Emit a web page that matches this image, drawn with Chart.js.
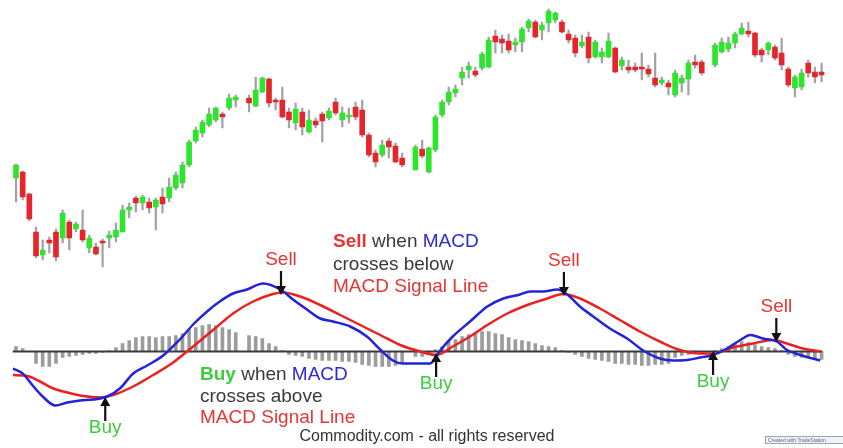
<!DOCTYPE html>
<html>
<head>
<meta charset="utf-8">
<title>MACD crossover</title>
<script src="https://cdn.jsdelivr.net/npm/chart.js@4.4.1/dist/chart.umd.min.js"></script>
<style>
  html, body { margin: 0; padding: 0; background: #fff; }
  #wrap { position: relative; width: 843px; height: 448px; }
</style>
</head>
<body>
<div id="wrap"><canvas id="macdChart"></canvas></div>
<script>
// candles (null = no trading that day)
const openPrices = [122, 128, 106, 68, 45, 60, 68, 62, 78, 71,
  70, 52, 53, 59, 62, 63, 68, 90, 102, 97,
  98, 93, 103, 102, 112, 117, 135, 159, 167, 175,
  180, 186, 192, 200, null, 202, 194, 208, 221, 200,
  200, 188, 177, 188, 168, 179, 186, 182, 198, 180,
  183, 193, 190, 165, 147, 145, 159, 154, 142, null,
  130, 151, 128, 150, 185, 198, 207, 222, 230, 229,
  232, 233, 264, 261, 259, 255, 258, 272, 278, 270,
  277, 280, 278, 266, 262, 254, 263, 243, 243, 243,
  252, 234, 233, 233, 233, 231, 222, 217, 217, 205,
  217, 221, 238, 238, null, 235, 248, 251, 257, 266,
  269, 267, 250, 250, 253, 247, 231, 212, 213, 237,
  228, 228];
const closePrices = [135, 103, 81, 44, 50, 57, 43, 87, 62, 76,
  60, 62, 46, 57, 65, 70, 90, 93, 97, 103,
  92, 100, 96, 113, 125, 135, 158, 170, 178, 186,
  192, 183, 202, 203, null, 197, 210, 222, 197, 198,
  183, 180, 191, 173, 180, 175, 179, 189, 187, 187,
  184, 183, 165, 145, 138, 155, 153, 138, 135, null,
  153, 144, 152, 183, 198, 208, 211, 228, 234, 225,
  246, 260, 258, 257, 250, 258, 271, 279, 263, 275,
  289, 287, 268, 260, 247, 258, 242, 258, 248, 259,
  228, 240, 230, 230, 231, 226, 215, 220, 213, 227,
  222, 237, 235, 227, null, 255, 258, 257, 266, 272,
  266, 245, 245, 257, 242, 235, 215, 223, 227, 227,
  223, 225];
const highPrices = [136, 129, 107, 73, 60, 63, 71, 90, 80, 78,
  90, 65, 57, 61, 69, 77, 95, 97, 104, 105,
  102, 102, 112, 122, 128, 138, 160, 173, 180, 192,
  193, 188, 206, 205, null, 205, 223, 223, 222, 202,
  213, 192, 197, 192, 190, 182, 188, 192, 202, 193,
  192, 198, 200, 167, 150, 160, 162, 157, 147, null,
  155, 160, 153, 185, 200, 213, 215, 233, 238, 233,
  248, 263, 270, 265, 266, 262, 273, 281, 280, 278,
  291, 288, 280, 270, 265, 265, 268, 260, 252, 267,
  253, 243, 240, 237, 247, 235, 247, 223, 220, 230,
  225, 240, 245, 240, null, 257, 262, 263, 268, 277,
  278, 268, 252, 258, 255, 262, 233, 225, 231, 240,
  233, 237];
const lowPrices = [98, 100, 79, 42, 40, 47, 39, 57, 50, 68,
  58, 47, 45, 33, 52, 58, 68, 82, 88, 90,
  87, 70, 87, 98, 110, 112, 133, 157, 163, 173,
  178, 172, 190, 193, null, 188, 193, 207, 193, 190,
  182, 172, 170, 165, 167, 172, 158, 180, 185, 173,
  177, 180, 163, 143, 133, 143, 142, 137, 133, null,
  130, 142, 127, 148, 183, 195, 203, 215, 222, 223,
  230, 232, 247, 247, 247, 248, 248, 268, 262, 260,
  268, 277, 267, 257, 243, 252, 237, 242, 237, 242,
  227, 230, 227, 228, 220, 223, 213, 215, 205, 203,
  208, 205, 232, 225, null, 233, 247, 248, 252, 265,
  263, 243, 238, 245, 240, 230, 213, 203, 210, 223,
  217, 218];

// MACD histogram, one bar per day
const histogram = [0.05, 0.03, 0.0, -0.12, -0.15, -0.15, -0.12, -0.06, -0.05, -0.04,
  -0.03, -0.02, -0.02, -0.01, 0.01, 0.04, 0.08, 0.11, 0.14, 0.15,
  0.15, 0.14, 0.15, 0.15, 0.16, 0.18, 0.22, 0.24, 0.26, 0.27,
  0.26, 0.24, 0.22, 0.19, null, 0.16, 0.15, 0.13, 0.08, 0.05,
  0.01, -0.03, -0.04, -0.05, -0.07, -0.08, -0.09, -0.09, -0.09, -0.10,
  -0.10, -0.11, -0.13, -0.14, -0.15, -0.15, -0.15, -0.14, -0.12, null,
  -0.05, -0.05, -0.03, 0.02, 0.05, 0.10, 0.12, 0.15, 0.17, 0.19,
  0.20, 0.20, 0.18, 0.17, 0.14, 0.12, 0.11, 0.10, 0.08, 0.06,
  0.05, 0.04, 0.01, -0.01, -0.03, -0.05, -0.07, -0.08, -0.09, -0.10,
  -0.12, -0.12, -0.13, -0.13, -0.14, -0.14, -0.13, -0.13, -0.12, -0.06,
  -0.04, -0.03, -0.02, -0.01, null, 0.01, 0.03, 0.05, 0.08, 0.10,
  0.09, 0.07, 0.05, 0.04, 0.03, 0.01, -0.03, -0.05, -0.06, -0.06,
  -0.07, -0.08];

// MACD line (blue), read at day positions
const macdAt = [-0.5, 1, 2.5, 4, 5.9, 7.7, 9.6, 11.6, 13.7, 15.6, 17.6, 19.7, 22.1, 24.6, 26.6, 28.7,
  30.6, 32.6, 34.7, 37.1, 39.7, 41.6, 43.7, 45.7, 47.6, 50.2, 52.7, 54.7, 56.6, 58.1, 60.7, 62.2,
  63.7, 65.6, 68.2, 70.8, 73.2, 75.7, 77.2, 79.2, 81.3, 82.8, 84.7, 86.7, 89.2, 91.8, 94.2, 96.7,
  98.7, 100.8, 102.8, 104.7, 106.8, 108.8, 110.3, 112.2, 114.3, 115.8, 117.8, 120.8];
const macdValues = [-0.17, -0.22, -0.34, -0.45, -0.54, -0.51, -0.49, -0.48, -0.45, -0.37, -0.22, -0.14, -0.04, 0.12, 0.27, 0.40,
  0.50, 0.58, 0.62, 0.68, 0.62, 0.52, 0.42, 0.33, 0.30, 0.25, 0.15, 0.02, -0.09, -0.12, -0.12, -0.12,
  0.01, 0.15, 0.30, 0.45, 0.53, 0.57, 0.60, 0.60, 0.62, 0.57, 0.45, 0.35, 0.23, 0.13, 0.01, -0.07,
  -0.09, -0.085, -0.06, -0.035, 0.03, 0.115, 0.165, 0.13, 0.10, 0.015, -0.035, -0.09];

// signal line (red)
const signalAt = [-0.5, 1.7, 3.6, 5.6, 7.7, 10.1, 12.6, 14.6, 17.6, 20.6, 23.6, 26.6, 29.6, 32.6, 35.6, 38.6,
  40.1, 42.7, 45.7, 48.7, 51.7, 54.7, 57.7, 60.7, 63.2, 65.6, 68.2, 70.8, 73.8, 76.8, 79.8, 82.2,
  84.7, 87.7, 90.7, 93.7, 96.7, 99.7, 102.8, 104.7, 107.7, 110.7, 113.7, 115.8, 118.2, 120.8];
const signalValues = [-0.235, -0.245, -0.30, -0.37, -0.41, -0.445, -0.46, -0.435, -0.35, -0.235, -0.11, 0.05, 0.215, 0.38, 0.50, 0.575,
  0.59, 0.55, 0.465, 0.365, 0.265, 0.165, 0.065, 0.0, -0.035, 0.05, 0.15, 0.265, 0.38, 0.465, 0.53, 0.575,
  0.53, 0.43, 0.315, 0.20, 0.10, 0.015, -0.02, -0.02, 0.04, 0.08, 0.115, 0.08, 0.03, 0.0];

// crossovers marked with arrows
const signals = [
  { label: 'Sell', at: 39.8, value: 0.565 },
  { label: 'Sell', at: 82.3, value: 0.555 },
  { label: 'Sell', at: 114.2, value: 0.095 },
  { label: 'Buy', at: 13.4, value: -0.455 },
  { label: 'Buy', at: 63.1, value: -0.015 },
  { label: 'Buy', at: 104.7, value: 0.005 }
];

const days = openPrices.map((_, i) => 'Day ' + (i + 1));

const RED = '#e4262c';
const GREEN = '#2ee52e';
const TXT_RED = '#e53535';
const TXT_GREEN = '#3dcc3d';
const TXT_BLUE = '#2b2bd2';
const TXT_DARK = '#3a3a3a';
const FONT = "'Liberation Sans', Arial, sans-serif";

const bodyColors = openPrices.map((o, i) => closePrices[i] >= o ? GREEN : RED);

function toPoints(xs, ys) {
  return xs.map((x, i) => ({ x: x, y: ys[i] }));
}

function drawArrow(ctx, x, tipY, dir) {
  // dir 1 = pointing down, -1 = pointing up
  const len = 24, head = 9, half = 5;
  ctx.strokeStyle = '#111';
  ctx.fillStyle = '#111';
  ctx.lineWidth = 2.2;
  ctx.beginPath();
  ctx.moveTo(x, tipY - dir * len);
  ctx.lineTo(x, tipY - dir * (head - 1));
  ctx.stroke();
  ctx.beginPath();
  ctx.moveTo(x, tipY);
  ctx.lineTo(x - half, tipY - dir * head);
  ctx.lineTo(x + half, tipY - dir * head);
  ctx.closePath();
  ctx.fill();
}

function drawRich(ctx, x, y, parts) {
  let cx = x;
  parts.forEach(p => {
    ctx.font = (p.bold ? 'bold ' : '') + '19px ' + FONT;
    ctx.fillStyle = p.color;
    ctx.fillText(p.text, cx, y);
    cx += ctx.measureText(p.text).width;
  });
}

const notesPlugin = {
  id: 'notes',
  afterDatasetsDraw(chart) {
    const ctx = chart.ctx;
    const xs = chart.scales.x2;
    const ys = chart.scales.macd;
    ctx.save();
    ctx.textBaseline = 'middle';

    signals.forEach(s => {
      const px = xs.getPixelForValue(s.at);
      const py = ys.getPixelForValue(s.value);
      const sell = s.label === 'Sell';
      drawArrow(ctx, px, py, sell ? 1 : -1);
      ctx.font = '19px ' + FONT;
      ctx.textAlign = 'center';
      ctx.fillStyle = sell ? TXT_RED : TXT_GREEN;
      ctx.fillText(s.label, px, sell ? py - 35 : py + 31);
    });

    ctx.textAlign = 'left';
    drawRich(ctx, 333, 242, [
      { text: 'Sell', color: TXT_RED, bold: true },
      { text: ' when ', color: TXT_DARK },
      { text: 'MACD', color: TXT_BLUE }
    ]);
    drawRich(ctx, 333, 265, [{ text: 'crosses below', color: TXT_DARK }]);
    drawRich(ctx, 333, 287, [{ text: 'MACD Signal Line', color: TXT_RED }]);

    drawRich(ctx, 200, 375, [
      { text: 'Buy', color: TXT_GREEN, bold: true },
      { text: ' when ', color: TXT_DARK },
      { text: 'MACD', color: TXT_BLUE }
    ]);
    drawRich(ctx, 200, 397, [{ text: 'crosses above', color: TXT_DARK }]);
    drawRich(ctx, 200, 418, [{ text: 'MACD Signal Line', color: TXT_RED }]);

    ctx.textAlign = 'center';
    ctx.font = '16px ' + FONT;
    ctx.fillStyle = '#333';
    ctx.fillText('Commodity.com - all rights reserved', 427, 437);

    // small "created with" badge
    ctx.fillStyle = '#eef2f5';
    ctx.fillRect(765, 437, 78, 7);
    ctx.strokeStyle = '#9aa8b4';
    ctx.lineWidth = 1;
    ctx.strokeRect(765.5, 436.5, 78, 7);
    ctx.font = '5px ' + FONT;
    ctx.fillStyle = '#667';
    ctx.textAlign = 'left';
    ctx.fillText('Created with TradeStation', 768, 440.5);
    ctx.restore();
  }
};

new Chart(document.getElementById('macdChart'), {
  type: 'bar',
  data: {
    labels: days,
    datasets: [
      {
        label: 'Range',
        data: lowPrices.map((l, i) => l === null ? null : [l, highPrices[i]]),
        yAxisID: 'price',
        backgroundColor: '#a3a3a3',
        barThickness: 1.6,
        grouped: false,
        order: 3
      },
      {
        label: 'Body',
        data: openPrices.map((o, i) => o === null ? null : [o, closePrices[i]]),
        yAxisID: 'price',
        backgroundColor: bodyColors,
        barThickness: 5,
        minBarLength: 2,
        grouped: false,
        order: 2
      },
      {
        label: 'Histogram',
        data: histogram,
        yAxisID: 'macd',
        backgroundColor: '#9c9c9c',
        barThickness: 3,
        grouped: false,
        order: 4
      },
      {
        type: 'line',
        label: 'Zero',
        data: [{ x: -0.6, y: 0 }, { x: 121.1, y: 0 }],
        xAxisID: 'x2',
        yAxisID: 'macd',
        borderColor: '#3a3a3a',
        borderWidth: 2,
        pointRadius: 0,
        order: 1
      },
      {
        type: 'line',
        label: 'Signal',
        data: toPoints(signalAt, signalValues),
        xAxisID: 'x2',
        yAxisID: 'macd',
        borderColor: '#ec2020',
        borderWidth: 2.5,
        pointRadius: 0,
        cubicInterpolationMode: 'monotone',
        order: 0
      },
      {
        type: 'line',
        label: 'MACD',
        data: toPoints(macdAt, macdValues),
        xAxisID: 'x2',
        yAxisID: 'macd',
        borderColor: '#2323d8',
        borderWidth: 2.5,
        pointRadius: 0,
        cubicInterpolationMode: 'monotone',
        order: -1
      }
    ]
  },
  options: {
    responsive: true,
    maintainAspectRatio: false,
    animation: false,
    layout: { padding: { left: 12.7, right: 18.1, top: 0, bottom: 0 } },
    plugins: {
      legend: { display: false },
      tooltip: { enabled: false }
    },
    scales: {
      x: { display: false, offset: true },
      x2: { type: 'linear', display: false, offset: false, min: -0.5, max: 121.5 },
      price: { display: false, min: -148, max: 300 },
      macd: { display: false, min: -0.965, max: 3.515 }
    }
  },
  plugins: [notesPlugin]
});
</script>
</body>
</html>
